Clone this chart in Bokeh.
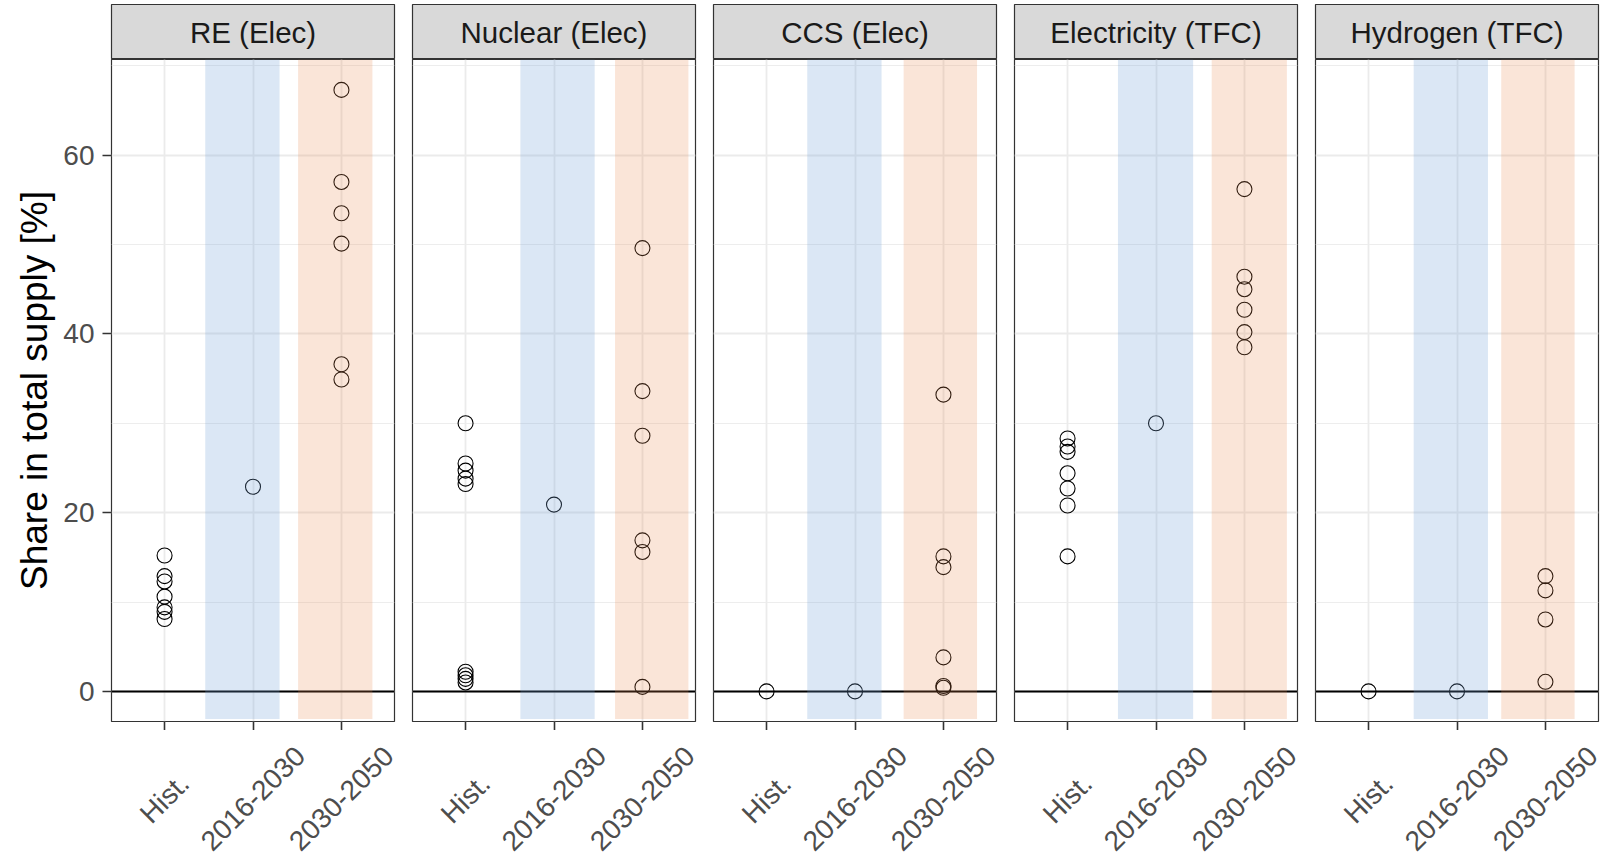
import math
from bokeh.plotting import figure
from bokeh.layouts import row, column
from bokeh.models import Range1d, FixedTicker
from bokeh.core.properties import value
from bokeh.embed import file_html
from bokeh.resources import INLINE

# ---------------- data ----------------
facets = ["RE (Elec)", "Nuclear (Elec)", "CCS (Elec)", "Electricity (TFC)", "Hydrogen (TFC)"]
periods = ["Hist.", "2016-2030", "2030-2050"]

hist_vals = [
    [15.2, 12.9, 12.3, 10.6, 9.4, 8.9, 8.1],
    [30.0, 25.5, 24.7, 23.8, 23.2, 2.2, 1.8, 1.4, 1.0],
    [0.0],
    [28.3, 27.4, 26.8, 24.4, 22.7, 20.8, 15.1],
    [0.0],
]
mid_vals = [
    [22.9],
    [20.9],
    [0.0],
    [30.0],
    [0.0],
]
long_vals = [
    [67.3, 57.0, 53.5, 50.1, 36.6, 34.9],
    [49.6, 33.6, 28.6, 16.9, 15.6, 0.5],
    [33.2, 15.1, 13.9, 3.8, 0.6, 0.4],
    [56.2, 46.4, 45.0, 42.7, 40.2, 38.5],
    [12.9, 11.3, 8.05, 1.07],
]
# shaded period bands (x extents in period-axis units)
blue_left = [1.46, 1.62, 1.46, 1.57, 1.51]
blue_right = [2.30, 2.46, 2.30, 2.42, 2.35]
orange_left = [2.51, 2.69, 2.55, 2.63, 2.50]
orange_right = [3.35, 3.52, 3.38, 3.48, 3.33]
band_bottom = -3.1

y_ticks = [0, 20, 40, 60]
y_minor = [10, 30, 50, 70]
y_title = "Share in total supply [%]"

# ---------------- layout constants ----------------
Y_LO, Y_HI = -3.37, 70.7
X_LO, X_HI = 0.4, 3.6
FRAME_W = 283
TOP_PAD = 4
STRIP_H = 55
PANEL_H = 662
AXIS_H = 9          # tick-only x axis under each panel
LAB_H = 128
PX_PER_X = FRAME_W / (X_HI - X_LO)
FONT = "Liberation Sans"
TICK_LEN = 9
LABEL_DROP = 77     # centre of rotated labels below panel bottom (px)

columns = []
n = len(facets)
for i, name in enumerate(facets):
    first = i == 0
    last = i == n - 1
    left_b = 111 if first else 9
    right_b = 13 if last else 9
    xr = Range1d(X_LO, X_HI)

    # ---- facet strip ----
    s = figure(frame_width=FRAME_W, frame_height=STRIP_H, x_range=xr,
               y_range=Range1d(0, 1), output_backend="svg", toolbar_location=None,
               x_axis_location=None, y_axis_location=None,
               min_border_left=left_b, min_border_right=right_b,
               min_border_top=TOP_PAD, min_border_bottom=0,
               background_fill_color="#d9d9d9", border_fill_color="white")
    s.grid.visible = False
    s.outline_line_color = "#333333"
    s.outline_line_width = 1.2
    s.text(x=[(X_LO + X_HI) / 2], y=[0.5], text=[name], text_align="center",
           text_baseline="middle", text_font=value(FONT), text_font_size="29.5px",
           text_color="#1a1a1a")

    # ---- panel ----
    p = figure(frame_width=FRAME_W, frame_height=PANEL_H, x_range=xr,
               y_range=Range1d(Y_LO, Y_HI), output_backend="svg", toolbar_location=None,
               x_axis_location="below", y_axis_location="left" if first else None,
               min_border_left=left_b, min_border_right=right_b,
               min_border_top=0, min_border_bottom=0,
               background_fill_color="white", border_fill_color="white")
    p.outline_line_color = "#333333"
    p.outline_line_width = 1.2

    xa = p.xaxis[0]
    xa.ticker = FixedTicker(ticks=[1, 2, 3])
    xa.major_label_overrides = {1: "", 2: "", 3: ""}
    xa.major_label_text_font_size = "0px"
    xa.major_label_standoff = 0
    xa.axis_line_color = None
    xa.major_tick_in = 0
    xa.major_tick_out = TICK_LEN
    xa.major_tick_line_color = "#333333"
    xa.major_tick_line_width = 1.6
    xa.minor_tick_line_color = None

    xg = p.xgrid[0]
    xg.ticker = FixedTicker(ticks=[1, 2, 3])
    xg.grid_line_color = "#ebebeb"
    xg.grid_line_width = 1.8
    yg = p.ygrid[0]
    yg.ticker = FixedTicker(ticks=y_ticks, minor_ticks=y_minor)
    yg.grid_line_color = "#ebebeb"
    yg.grid_line_width = 1.8
    yg.minor_grid_line_color = "#ebebeb"
    yg.minor_grid_line_width = 0.9

    if first:
        ya = p.yaxis[0]
        ya.ticker = FixedTicker(ticks=y_ticks)
        ya.axis_line_color = None
        ya.major_tick_in = 0
        ya.major_tick_out = TICK_LEN
        ya.major_tick_line_color = "#333333"
        ya.major_tick_line_width = 1.6
        ya.minor_tick_line_color = None
        ya.major_label_standoff = 8
        ya.major_label_text_font = FONT
        ya.major_label_text_font_size = "28px"
        ya.major_label_text_color = "#4d4d4d"
        ya.axis_label = y_title
        ya.axis_label_text_font = FONT
        ya.axis_label_text_font_size = "37px"
        ya.axis_label_text_font_style = "normal"
        ya.axis_label_text_color = "black"
        ya.axis_label_standoff = 5

    # zero reference line
    p.segment(x0=[X_LO], x1=[X_HI], y0=[0], y1=[0], line_color="black", line_width=2)

    # points
    for k, vals in enumerate([hist_vals[i], mid_vals[i], long_vals[i]]):
        p.scatter(x=[k + 1] * len(vals), y=vals, marker="circle", size=15,
                  fill_color=None, line_color="black", line_width=1.1)

    # translucent period bands over the points
    p.quad(left=[blue_left[i]], right=[blue_right[i]], bottom=[band_bottom], top=[Y_HI],
           fill_color="#6f9fd8", fill_alpha=0.25, line_color=None)
    p.quad(left=[orange_left[i]], right=[orange_right[i]], bottom=[band_bottom], top=[Y_HI],
           fill_color="#e8894f", fill_alpha=0.22, line_color=None)

    # ---- rotated period labels (frame extended into the gap on the right) ----
    lab = figure(frame_width=FRAME_W + right_b, frame_height=LAB_H,
                 x_range=Range1d(X_LO, X_HI + right_b / PX_PER_X),
                 y_range=Range1d(0, LAB_H),
                 output_backend="svg", toolbar_location=None,
                 x_axis_location=None, y_axis_location=None,
                 min_border_left=left_b, min_border_right=0,
                 min_border_top=0, min_border_bottom=0,
                 background_fill_color="white", border_fill_color="white")
    lab.grid.visible = False
    lab.outline_line_color = None
    xs = [k + 1 for k in range(len(periods))]
    lab.text(x=xs, y=[LAB_H - (LABEL_DROP - AXIS_H)] * 3, text=periods, angle=math.pi / 4,
             text_align="center", text_baseline="middle", text_font=value(FONT),
             text_font_size="28px", text_color="#4d4d4d")

    columns.append(column(s, p, lab, spacing=0))

layout = row(*columns, spacing=0)
open("out.html", "w").write(file_html(layout, INLINE))
